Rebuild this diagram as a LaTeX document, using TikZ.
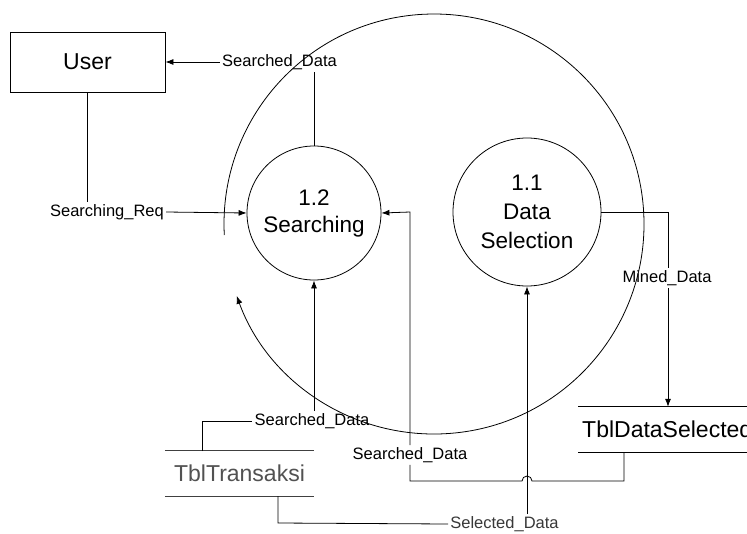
\documentclass[tikz,border=0pt]{standalone}
\usepackage{fontspec}
\setmainfont{Liberation Sans}
\usetikzlibrary{arrows.meta}

\tikzset{
  flow/.style={line width=0.8pt},
  tip/.style={-{Latex[length=8pt,width=6pt]}},
  lbl/.style={inner sep=2pt, font=\fontsize{16.5}{19}\selectfont},
  proc/.style={circle, draw, line width=0.8pt, inner sep=0pt, align=center},
  entity/.style={rectangle, draw, line width=0.8pt, inner sep=0pt,
    font=\fontsize{23}{27}\selectfont},
  store/.style={inner sep=0pt, font=\fontsize{23}{27}\selectfont},
}

\begin{document}
\begin{tikzpicture}[x=1pt, y=-1pt]
  \clip (0,0) rectangle (747,533);
  \fill[white] (0,0) rectangle (747,533);

  % external entity and processes
  \node[entity, minimum width=155, minimum height=60] (user) at (87.5,62) {User};
  \node[proc, minimum size=134, font=\fontsize{22.5}{27}\selectfont] (srch) at (314,213) {1.2\\Searching};
  \node[proc, minimum size=148, font=\fontsize{22.5}{29}\selectfont] (dsel) at (527,212) {1.1\\Data\\Selection};

  % iteration arc around both processes
  \coordinate (arcstart) at (224.3,235);
  \draw[flow, tip] (arcstart) arc[start angle=-183, end angle=160, radius=210];

  % data stores
  \node[store, anchor=west, minimum height=45, inner xsep=4] (tds) at (578,429.5) {TblDataSelected};
  \draw[flow] (tds.north west) -- (tds.north east);
  \draw[flow] (tds.south west) -- (tds.south east);

  \node[store, minimum width=149, minimum height=45, text=black!68] (tt) at (239.5,473.5) {TblTransaksi};
  \draw[flow, black!75] (tt.north west) -- (tt.north east);
  \draw[flow, black!75] (tt.south west) -- (tt.south east);

  % flow labels
  \node[lbl] (lsd1) at (279.5,62) {Searched\_Data};
  \node[lbl] (lreq) at (107,212) {Searching\_Req};
  \node[lbl] (lmin) at (667,278) {Mined\_Data};
  \node[lbl] (lsd2) at (312,421) {Searched\_Data};
  \node[lbl] (lsd3) at (410,455) {Searched\_Data};
  \node[lbl, text=black!78] (lsel) at (504.5,524) {Selected\_Data};

  % Searching -> User
  \draw[flow] (srch.north) -- (srch.north |- lsd1.south);
  \draw[flow, tip] (lsd1.west) -- (user.east |- lsd1.west);

  % User -> Searching
  \draw[flow] (user.south) -- (user.south |- lreq.north);
  \draw[flow, tip] (lreq.east) -- (srch.west);

  % Data Selection -> TblDataSelected
  \coordinate (mturn) at (668,212);
  \draw[flow] (dsel.east) -- (mturn) -- (mturn |- lmin.north);
  \draw[flow, tip] (mturn |- lmin.south) -- (mturn |- tds.north);

  % TblTransaksi -> Searching
  \coordinate (ttout) at (202,451);
  \draw[flow] (ttout) -- (ttout |- lsd2.west) -- (lsd2.west);
  \draw[flow, tip] (srch.south |- lsd2.north) -- (srch.south);

  % TblDataSelected -> Searching, hopping over the Selected_Data flow
  \coordinate (tdsout) at (624,452);
  \coordinate (sdturn) at (410,481);
  \draw[flow] (tdsout) -- (624,481) -- (532,481)
    arc[start angle=0, end angle=-180, radius=5] -- (sdturn) -- (sdturn |- lsd3.south);
  \draw[flow, tip] (lsd3.north) -- (410,212) -- (srch.east);

  % TblTransaksi -> Data Selection
  \coordinate (ttsel) at (278,496);
  \draw[flow] (ttsel) -- (278,523) -- (lsel.west);
  \draw[flow, tip] (dsel.south |- lsel.north) -- (dsel.south);
\end{tikzpicture}
\end{document}
